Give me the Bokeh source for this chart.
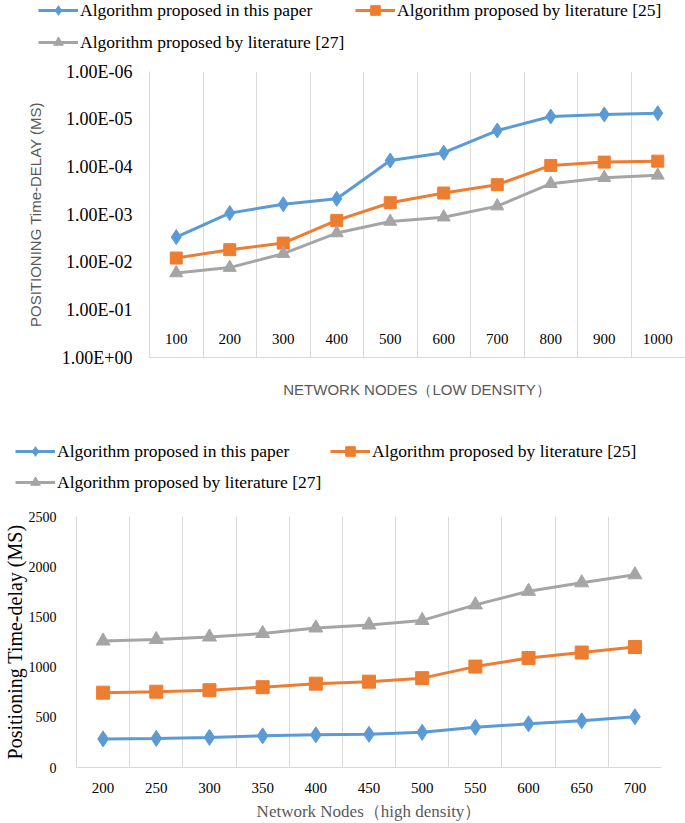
from bokeh.plotting import figure
from bokeh.models import Range1d, FixedTicker, Legend, LegendItem, CustomJSTickFormatter
from bokeh.embed import file_html
from bokeh.resources import INLINE

# ---------------- data ----------------
series_names = ["Algorithm proposed in this paper",
                "Algorithm proposed by literature [25]",
                "Algorithm proposed by literature [27]"]

nodes_low = ["100", "200", "300", "400", "500", "600", "700", "800", "900", "1000"]
low_this = [2.98e-3, 9.35e-4, 6.1e-4, 4.67e-4, 7.35e-5, 5.06e-5, 1.73e-5, 8.8e-6, 7.96e-6, 7.5e-6]
low_lit25 = [8.2e-3, 5.47e-3, 3.98e-3, 1.33e-3, 5.66e-4, 3.55e-4, 2.37e-4, 9.35e-5, 7.96e-5, 7.6e-5]
low_lit27 = [1.69e-2, 1.30e-2, 6.64e-3, 2.45e-3, 1.40e-3, 1.14e-3, 6.67e-4, 2.26e-4, 1.69e-4, 1.51e-4]
low_y_ticks = [1e0, 1e-1, 1e-2, 1e-3, 1e-4, 1e-5, 1e-6]

nodes_high = ["200", "250", "300", "350", "400", "450", "500", "550", "600", "650", "700"]
high_this = [285, 290, 300, 315, 325, 330, 350, 400, 435, 465, 505]
high_lit25 = [745, 755, 770, 800, 835, 855, 890, 1005, 1090, 1145, 1200]
high_lit27 = [1260, 1275, 1300, 1335, 1390, 1420, 1465, 1620, 1755, 1840, 1920]
high_y_ticks = [0, 500, 1000, 1500, 2000, 2500]

BLUE, ORANGE, GRAY = "#5B9BD5", "#ED7D31", "#A5A5A5"
COLORS = [BLUE, ORANGE, GRAY]
MARKERS = ["diamond", "square", "triangle"]
AXIS_C = "#D9D9D9"
SERIF = "Liberation Serif"
SANS = "Liberation Sans"

cat_fmt_code = "return labels[Math.floor(tick)];"
log_fmt_code = """
const e = Math.round(Math.log10(tick));
const a = Math.abs(e);
return "1.00E" + (e < 0 ? "-" : "+") + (a < 10 ? "0" : "") + a;
"""


def legend_figure(height, xs, series, locs):
    # legend-only strip; the series are plotted out of view so only the legend shows
    lf = figure(width=685, height=height, frame_width=685, frame_height=height,
                x_axis_type=None, y_axis_type=None,
                x_range=Range1d(1e7, 1e7 + 1), y_range=Range1d(1e7, 1e7 + 1),
                output_backend="svg", toolbar_location=None,
                min_border=0, min_border_left=0, min_border_right=0,
                min_border_top=0, min_border_bottom=0)
    lf.outline_line_color = None
    lf.xgrid.visible = False
    lf.ygrid.visible = False
    for name, vals, col, mk, loc in zip(series_names, series, COLORS, MARKERS, locs):
        rl = lf.line(x=xs, y=vals, line_color=col, line_width=3)
        rm = lf.scatter(x=xs, y=vals, marker=mk, fill_color=col, line_color=col)
        lg = Legend(items=[LegendItem(label=name, renderers=[rl, rm])],
                    location=loc, orientation="horizontal",
                    glyph_width=40, glyph_height=24, label_standoff=2,
                    padding=0, margin=0, spacing=0,
                    border_line_color=None, background_fill_alpha=0,
                    label_text_font=SERIF, label_text_font_size="17.5px",
                    label_text_color="black", label_height=20)
        lf.add_layout(lg, "center")
    return lf


def style_common(p):
    p.outline_line_color = None
    p.ygrid.visible = False
    p.xgrid.grid_line_color = AXIS_C
    p.xgrid.grid_line_width = 1
    for ax in (p.xaxis[0], p.yaxis[0]):
        ax.axis_line_color = AXIS_C
        ax.major_tick_line_color = None
        ax.minor_tick_line_color = None
        ax.axis_label_text_font_style = "normal"


n1 = len(nodes_low)
x1 = [i + 0.5 for i in range(n1)]
n2 = len(nodes_high)
x2 = [i + 0.5 for i in range(n2)]

# ---------------- top legend ----------------
leg1 = legend_figure(56, x1, (low_this, low_lit25, low_lit27),
                     [(38, 34), (355, 34), (38, 2)])

# ---------------- top chart (low density, reversed log axis) ----------------
p1 = figure(width=685, height=364, frame_width=535, frame_height=286,
            y_axis_type="log", x_range=Range1d(0, n1), y_range=Range1d(1, 1e-6),
            output_backend="svg", toolbar_location=None,
            min_border_left=149, min_border_right=1,
            min_border_top=15, min_border_bottom=63)
style_common(p1)
p1.xgrid.ticker = FixedTicker(ticks=list(range(1, n1 + 1)))
p1.xaxis.ticker = FixedTicker(ticks=x1)
p1.xaxis.formatter = CustomJSTickFormatter(args=dict(labels=nodes_low), code=cat_fmt_code)
p1.xaxis.major_label_standoff = -30
p1.xaxis.major_label_text_font = SERIF
p1.xaxis.major_label_text_font_size = "15px"
p1.xaxis.major_label_text_color = "black"
p1.xaxis.axis_label = "NETWORK NODES（LOW DENSITY）"
p1.xaxis.axis_label_text_font = SANS
p1.xaxis.axis_label_text_font_size = "15px"
p1.xaxis.axis_label_text_color = "#595959"
p1.xaxis.axis_label_standoff = 34

p1.yaxis.ticker = FixedTicker(ticks=low_y_ticks)
p1.yaxis.formatter = CustomJSTickFormatter(code=log_fmt_code)
p1.yaxis.major_label_text_font = SERIF
p1.yaxis.major_label_text_font_size = "18px"
p1.yaxis.major_label_text_color = "black"
p1.yaxis.major_label_standoff = 11
p1.yaxis.axis_label = "POSITIONING Time-DELAY (MS)"
p1.yaxis.axis_label_text_font = SANS
p1.yaxis.axis_label_text_font_size = "15px"
p1.yaxis.axis_label_text_color = "#595959"
p1.yaxis.axis_label_standoff = 15

for vals, col, mk, sz in zip((low_this, low_lit25, low_lit27), COLORS, MARKERS, (15, 12, 13)):
    p1.line(x1, vals, line_color=col, line_width=3)
    p1.scatter(x1, vals, marker=mk, size=sz, fill_color=col, line_color=col)

# ---------------- bottom legend ----------------
leg2 = legend_figure(80, x2, (high_this, high_lit25, high_lit27),
                     [(15, 37), (330, 37), (15, 6)])

# ---------------- bottom chart (high density) ----------------
p2 = figure(width=685, height=323, frame_width=585, frame_height=251,
            x_range=Range1d(0, n2), y_range=Range1d(high_y_ticks[0], high_y_ticks[-1]),
            output_backend="svg", toolbar_location=None,
            min_border_left=76, min_border_right=24,
            min_border_top=16, min_border_bottom=56)
style_common(p2)
p2.xgrid.ticker = FixedTicker(ticks=list(range(1, n2 + 1)))
p2.xaxis.ticker = FixedTicker(ticks=x2)
p2.xaxis.formatter = CustomJSTickFormatter(args=dict(labels=nodes_high), code=cat_fmt_code)
p2.xaxis.major_label_standoff = 9
p2.xaxis.major_label_text_font = SERIF
p2.xaxis.major_label_text_font_size = "15px"
p2.xaxis.major_label_text_color = "black"
p2.xaxis.axis_label = "Network Nodes（high density）"
p2.xaxis.axis_label_text_font = SERIF
p2.xaxis.axis_label_text_font_size = "17px"
p2.xaxis.axis_label_text_color = "#595959"
p2.xaxis.axis_label_standoff = 6

p2.yaxis.ticker = FixedTicker(ticks=high_y_ticks)
p2.yaxis.major_label_text_font = SERIF
p2.yaxis.major_label_text_font_size = "14px"
p2.yaxis.major_label_text_color = "black"
p2.yaxis.major_label_standoff = 14
p2.yaxis.axis_label = "Positioning Time-delay (MS)"
p2.yaxis.axis_label_text_font = SERIF
p2.yaxis.axis_label_text_font_size = "20px"
p2.yaxis.axis_label_text_color = "black"
p2.yaxis.axis_label_standoff = 0

for vals, col, mk, sz in zip((high_this, high_lit25, high_lit27), COLORS, MARKERS, (16, 13, 14)):
    p2.line(x2, vals, line_color=col, line_width=3)
    p2.scatter(x2, vals, marker=mk, size=sz, fill_color=col, line_color=col)

open("out.html", "w").write(file_html([leg1, p1, leg2, p2], INLINE))
